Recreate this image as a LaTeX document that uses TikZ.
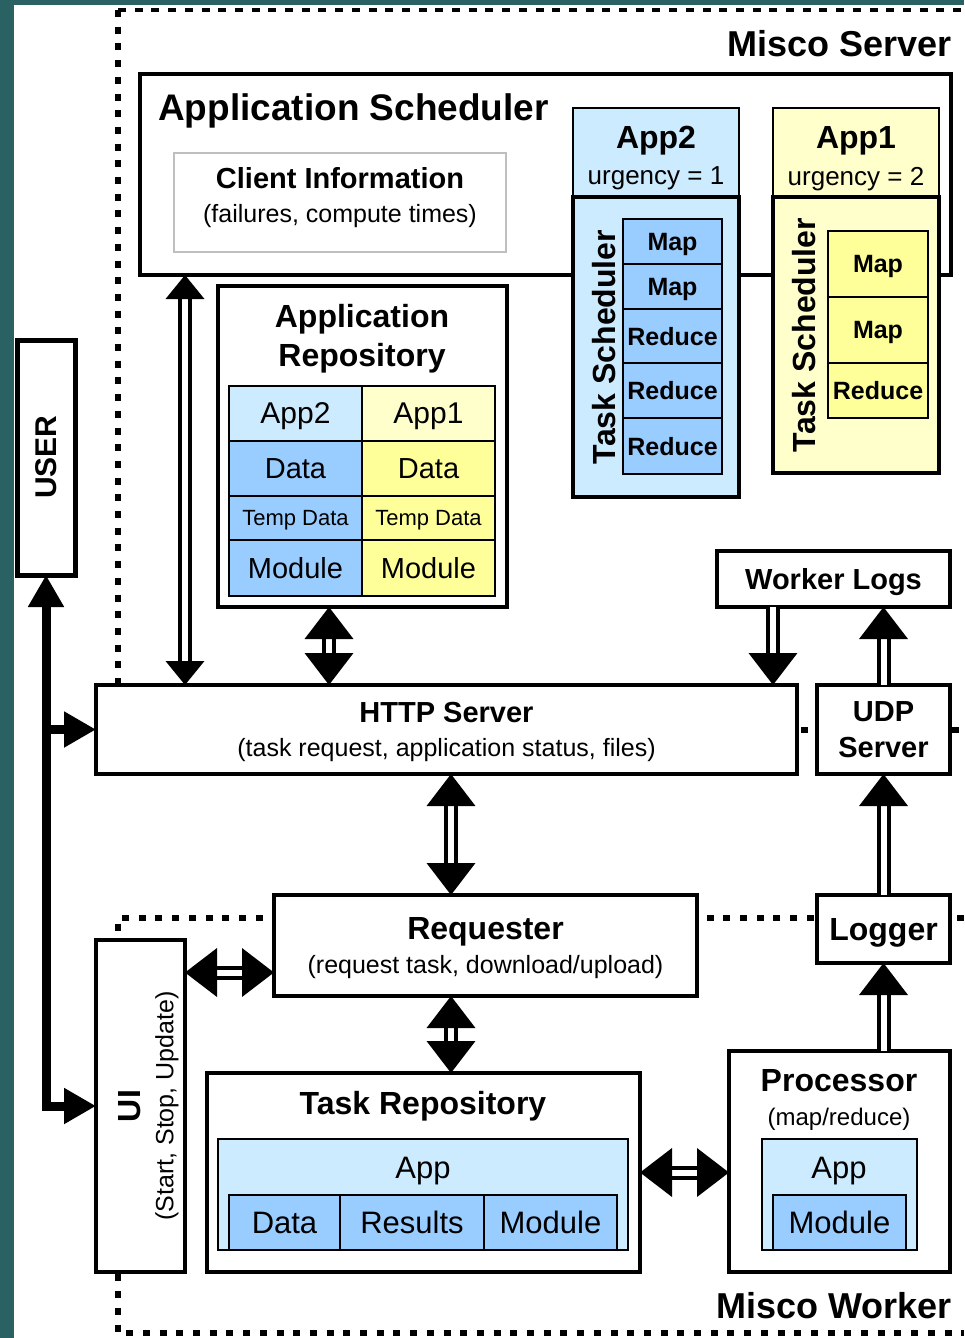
\documentclass[tikz,border=0pt]{standalone}
\usepackage{fontspec}
\setmainfont{Liberation Sans}
\usetikzlibrary{arrows.meta}
\usetikzlibrary{positioning}
\definecolor{slidebg}{HTML}{2A6264}
\definecolor{appblue}{HTML}{CCEBFF}
\definecolor{taskblue}{HTML}{99CCFF}
\definecolor{appyellow}{HTML}{FFFFCC}
\definecolor{taskyellow}{HTML}{FFFF99}
\newcommand{\pxfont}[2]{\fontsize{#1}{#2}\selectfont}
\tikzstyle{box} = [rectangle, draw=black, fill=white, line width=3.5pt, anchor=north west, inner sep=0pt, outer sep=0pt, align=center, text depth=0pt]
\tikzstyle{cell} = [rectangle, draw=black, line width=2pt, anchor=north west, inner sep=0pt, outer sep=0pt, text depth=0pt]
\tikzstyle{txt} = [inner sep=0pt, align=center, text depth=0pt]
\tikzstyle{vtxt} = [inner sep=0pt, align=center, rotate=90]
\tikzstyle{dblarrow} = [line width=4pt, double=white, double distance=6pt, >={Triangle[length=32pt,width=48pt]}]
\tikzstyle{userline} = [line width=9pt, >={Triangle[length=32pt,width=34pt]}]
\tikzstyle{boundary} = [line width=6pt, dash pattern=on 7pt off 9.7pt]

\begin{document}
\begin{tikzpicture}[x=1pt, y=-1pt]

\fill[slidebg] (0,0) rectangle (964,1338);
\fill[white] (14,5) rectangle (964,1338);
\useasboundingbox (0,0) rectangle (964,1338);

% server and worker borders
\draw[line width=4.5pt, dash pattern=on 8pt off 8.7pt] (118,10) -- (964,10);
\draw[boundary] (118,10) -- (118,729.5) -- (964,729.5);
\draw[boundary] (964,918) -- (118,918) -- (118,1333) -- (964,1333);
\node (MISCOSERVER) [txt, anchor=east, font=\pxfont{36}{40}\bfseries] at (952,43) {Misco Server};
\node (MISCOWORKER) [txt, anchor=east, font=\pxfont{36}{40}\bfseries] at (952,1305) {Misco Worker};

% application scheduler
\node (APPSCHED) [box, minimum width=811pt, minimum height=201pt] at (140,74) {};
\node (APPSCHEDTXT) [txt, anchor=west, font=\pxfont{37}{40}\bfseries] at (158,107) {Application Scheduler};
\node (CLIENT) [box, draw=black!25, line width=1.5pt, minimum width=332pt, minimum height=99pt] at (174,153) {};
\node (CLIENTTXT) [txt, font=\pxfont{29}{34}\bfseries] at (340,195) {Client Information\\{\mdseries\pxfont{25}{34}(failures, compute times)}};

\node (APP2HEAD) [box, fill=appblue, line width=2pt, minimum width=166pt, minimum height=89pt] at (573,108) {};
\node (APP2NAME) [txt, font=\pxfont{32}{36}\bfseries] at (656,137) {App2};
\node (APP2URG) [txt, font=\pxfont{26}{30}] at (656,176) {urgency = 1};
\node (APP2TS) [box, fill=appblue, minimum width=166pt, minimum height=300pt] at (573,197) {};
\node (APP2TSTXT) [vtxt, font=\pxfont{32}{36}\bfseries] at (604,347) {Task Scheduler};
\node (APP2MAPA) [cell, fill=taskblue, minimum width=99pt, minimum height=45pt, font=\pxfont{25}{30}\bfseries] at (623,219) {Map};
\node (APP2MAPB) [cell, fill=taskblue, minimum width=99pt, minimum height=45pt, font=\pxfont{25}{30}\bfseries] at (623,264) {Map};
\node (APP2REDA) [cell, fill=taskblue, minimum width=99pt, minimum height=54pt, font=\pxfont{25}{30}\bfseries] at (623,309) {Reduce};
\node (APP2REDB) [cell, fill=taskblue, minimum width=99pt, minimum height=55pt, font=\pxfont{25}{30}\bfseries] at (623,363) {Reduce};
\node (APP2REDC) [cell, fill=taskblue, minimum width=99pt, minimum height=56pt, font=\pxfont{25}{30}\bfseries] at (623,418) {Reduce};

\node (APP1HEAD) [box, fill=appyellow, line width=2pt, minimum width=166pt, minimum height=89pt] at (773,108) {};
\node (APP1NAME) [txt, font=\pxfont{32}{36}\bfseries] at (856,137) {App1};
\node (APP1URG) [txt, font=\pxfont{26}{30}] at (856,176) {urgency = 2};
\node (APP1TS) [box, fill=appyellow, minimum width=166pt, minimum height=276pt] at (773,197) {};
\node (APP1TSTXT) [vtxt, font=\pxfont{32}{36}\bfseries] at (804,335) {Task Scheduler};
\node (APP1MAPA) [cell, fill=taskyellow, minimum width=100pt, minimum height=66pt, font=\pxfont{25}{30}\bfseries] at (828,231) {Map};
\node (APP1MAPB) [cell, fill=taskyellow, minimum width=100pt, minimum height=66pt, font=\pxfont{25}{30}\bfseries] at (828,297) {Map};
\node (APP1RED) [cell, fill=taskyellow, minimum width=100pt, minimum height=55pt, font=\pxfont{25}{30}\bfseries] at (828,363) {Reduce};

% application repository
\node (APPREPO) [box, minimum width=289pt, minimum height=321pt] at (218,286) {};
\node (APPREPOTXT) [txt, font=\pxfont{32}{39}\bfseries] at (362,335) {Application\\Repository};
\node (REPOAPP2) [cell, fill=appblue, minimum width=133pt, minimum height=55pt, font=\pxfont{30}{34}] at (229,386) {App2};
\node (REPOAPP1) [cell, fill=appyellow, minimum width=133pt, minimum height=55pt, font=\pxfont{30}{34}] at (362,386) {App1};
\node (REPODATA2) [cell, fill=taskblue, minimum width=133pt, minimum height=55pt, font=\pxfont{29}{34}] at (229,441) {Data};
\node (REPODATA1) [cell, fill=taskyellow, minimum width=133pt, minimum height=55pt, font=\pxfont{29}{34}] at (362,441) {Data};
\node (REPOTEMP2) [cell, fill=taskblue, minimum width=133pt, minimum height=44pt, font=\pxfont{22}{26}] at (229,496) {Temp Data};
\node (REPOTEMP1) [cell, fill=taskyellow, minimum width=133pt, minimum height=44pt, font=\pxfont{22}{26}] at (362,496) {Temp Data};
\node (REPOMOD2) [cell, fill=taskblue, minimum width=133pt, minimum height=56pt, font=\pxfont{29}{34}] at (229,540) {Module};
\node (REPOMOD1) [cell, fill=taskyellow, minimum width=133pt, minimum height=56pt, font=\pxfont{29}{34}] at (362,540) {Module};

% servers
\node (WLOGS) [box, minimum width=233pt, minimum height=56pt, font=\pxfont{29}{34}\bfseries] at (717,551) {Worker Logs};
\node (HTTP) [box, minimum width=701pt, minimum height=89pt, font=\pxfont{29}{34}\bfseries] at (96,685) {HTTP Server\\{\mdseries\pxfont{25}{34}(task request, application status, files)}};
\node (UDP) [box, minimum width=133pt, minimum height=89pt, font=\pxfont{29}{36}\bfseries] at (817,685) {UDP\\Server};
\node (USER) [box, line width=5pt, minimum width=58pt, minimum height=235pt] at (17,340) {};
\node (USERTXT) [vtxt, font=\pxfont{30}{34}\bfseries] at (46,457) {USER};

% worker
\node (REQ) [box, minimum width=423pt, minimum height=101pt, font=\pxfont{32}{34}\bfseries] at (274,895) {Requester\\{\mdseries\pxfont{25}{34}(request task, download/upload)}};
\node (LOGGER) [box, minimum width=133pt, minimum height=68pt, font=\pxfont{32}{36}\bfseries] at (817,895) {Logger};
\node (UI) [box, minimum width=89pt, minimum height=332pt] at (96,940) {};
\node (UITXT) [vtxt, font=\pxfont{32}{36}\bfseries] at (130,1106) {UI};
\node (UISUB) [vtxt, font=\pxfont{25}{30}] at (167,1106) {(Start, Stop, Update)};

\node (TASKREPO) [box, minimum width=433pt, minimum height=199pt] at (207,1073) {};
\node (TASKREPOTXT) [txt, font=\pxfont{32}{36}\bfseries] at (423,1103) {Task Repository};
\node (TRAPP) [cell, fill=appblue, line width=1.5pt, minimum width=410pt, minimum height=111pt] at (218,1139) {};
\node (TRAPPTXT) [txt, font=\pxfont{31}{34}] at (423,1168) {App};
\node (TRDATA) [cell, fill=taskblue, line width=1.5pt, minimum width=111pt, minimum height=55pt, font=\pxfont{31}{34}] at (229,1195) {Data};
\node (TRRES) [cell, fill=taskblue, line width=1.5pt, minimum width=144pt, minimum height=55pt, font=\pxfont{31}{34}] at (340,1195) {Results};
\node (TRMOD) [cell, fill=taskblue, line width=1.5pt, minimum width=133pt, minimum height=55pt, font=\pxfont{31}{34}] at (484,1195) {Module};

\node (PROC) [box, minimum width=221pt, minimum height=221pt] at (729,1051) {};
\node (PROCTXT) [txt, font=\pxfont{32}{34}\bfseries] at (839,1097) {Processor\\{\mdseries\pxfont{24}{34}(map/reduce)}};
\node (PRAPP) [cell, fill=appblue, line width=1.5pt, minimum width=155pt, minimum height=111pt] at (762,1139) {};
\node (PRAPPTXT) [txt, font=\pxfont{31}{34}] at (839,1168) {App};
\node (PRMOD) [cell, fill=taskblue, line width=1.5pt, minimum width=133pt, minimum height=55pt, font=\pxfont{31}{34}] at (773,1195) {Module};

% connections
\draw [dblarrow, <->, >={Triangle[length=24pt,width=38pt]}] ([xshift=45pt]APPSCHED.south west) -- ([xshift=45pt]APPSCHED.south west |- HTTP.north);
\draw [dblarrow, <->] ([xshift=-33.5pt]APPREPO.south) -- ([xshift=-33.5pt]APPREPO.south |- HTTP.north);
\draw [dblarrow, ->] ([xshift=56pt]WLOGS.south west) -- ([xshift=56pt]WLOGS.south west |- HTTP.north);
\draw [dblarrow, ->] (UDP.north) -- (WLOGS.south -| UDP.north);
\draw [dblarrow, ->] (LOGGER.north) -- (UDP.south);
\draw [dblarrow, ->] (PROC.north -| LOGGER.south) -- (LOGGER.south);
\draw [dblarrow, <->] ([xshift=4.5pt]HTTP.south) -- ([xshift=4.5pt]HTTP.south |- REQ.north);
\draw [dblarrow, <->] ([xshift=4.5pt]HTTP.south |- REQ.south) -- ([xshift=4.5pt]HTTP.south |- TASKREPO.north);
\draw [dblarrow, <->] ([yshift=-27pt]REQ.west) -- ([yshift=-27pt]REQ.west -| UI.east);
\draw [dblarrow, <->] (TASKREPO.east) -- (TASKREPO.east -| PROC.west);
\draw [userline, <->] (UI.west) -| (USER.south);
\draw [userline, ->] (USER.south |- HTTP.west) -- (HTTP.west);

\end{tikzpicture}
\end{document}
